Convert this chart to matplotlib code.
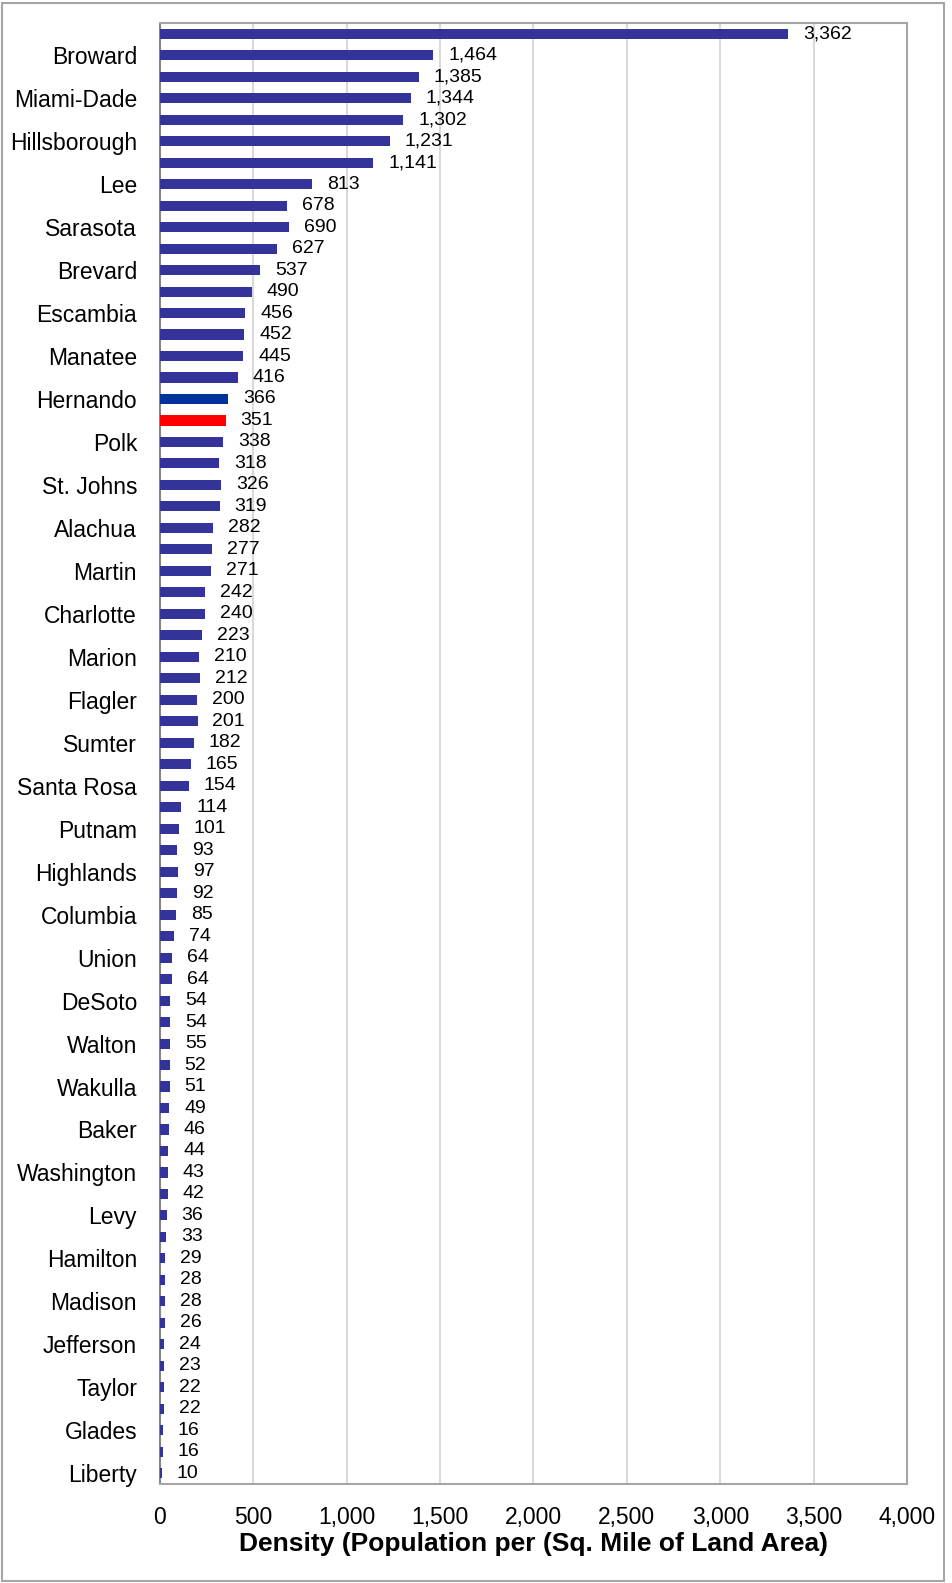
import matplotlib.pyplot as plt
from matplotlib.patches import Rectangle
from matplotlib.ticker import FuncFormatter

plt.rcParams['font.family'] = ['Liberation Sans', 'DejaVu Sans']

# shown county labels (Excel skipped every other one)
counties = ["", "Broward", "", "Miami-Dade", "", "Hillsborough", "", "Lee",
            "", "Sarasota", "", "Brevard", "", "Escambia", "", "Manatee",
            "", "Hernando", "Florida", "Polk", "", "St. Johns", "", "Alachua",
            "", "Martin", "", "Charlotte", "", "Marion", "", "Flagler",
            "", "Sumter", "", "Santa Rosa", "", "Putnam", "", "Highlands",
            "", "Columbia", "", "Union", "", "DeSoto", "", "Walton",
            "", "Wakulla", "", "Baker", "", "Washington", "", "Levy",
            "", "Hamilton", "", "Madison", "", "Jefferson", "", "Taylor",
            "", "Glades", "", "Liberty"]
density = [3362, 1464, 1385, 1344, 1302, 1231, 1141, 813, 678, 690, 627, 537,
           490, 456, 452, 445, 416, 366, 351, 338, 318, 326, 319, 282, 277,
           271, 242, 240, 223, 210, 212, 200, 201, 182, 165, 154, 114, 101,
           93, 97, 92, 85, 74, 64, 64, 54, 54, 55, 52, 51, 49, 46, 44, 43,
           42, 36, 33, 29, 28, 28, 26, 24, 23, 22, 22, 16, 16, 10]
highlight = {"Hernando": "#003399", "Florida": "#FF0000"}

colors = [highlight.get(c, "#333399") for c in counties]
pos = list(range(len(density)))

fig = plt.figure(figsize=(9.53, 15.83), dpi=100)
ax = fig.add_axes([160 / 953, 1 - 1484 / 1583, (907 - 160) / 953, (1484 - 23) / 1583])

ax.barh(pos, density, height=0.47, color=colors, zorder=3)
for p, v in zip(pos, density):
    ax.text(v + 80, p, f"{v:,}", va='center', ha='left', fontsize=14, zorder=4)

ax.set_xlim(0, 4000)
ax.set_ylim(len(density) - 0.5, -0.5)
ax.set_xticks(range(0, 4001, 500))
ax.xaxis.set_major_formatter(FuncFormatter(lambda x, _: f"{int(x):,}"))
ax.set_yticks(pos)
ax.set_yticklabels([c if i % 2 == 1 else "" for i, c in enumerate(counties)])
ax.tick_params(axis='y', length=0, labelsize=16.5, pad=16.5)
ax.tick_params(axis='x', length=0, labelsize=16.5, pad=16)
ax.grid(axis='x', color='#D9D9D9', linewidth=1.5, zorder=0)
for s in ax.spines.values():
    s.set_color('#A6A6A6')
    s.set_linewidth(1.5)
ax.spines['left'].set_color('#868686')
ax.set_xlabel("Density (Population per (Sq. Mile of Land Area)", fontsize=19,
              fontweight='bold', labelpad=2)

fig.patches.append(Rectangle((2 / 953, 2 / 1583), 942 / 953, 1578 / 1583,
                             transform=fig.transFigure, fill=False,
                             edgecolor='#A6A6A6', linewidth=1.5))

fig.savefig("out.png", dpi=100)
